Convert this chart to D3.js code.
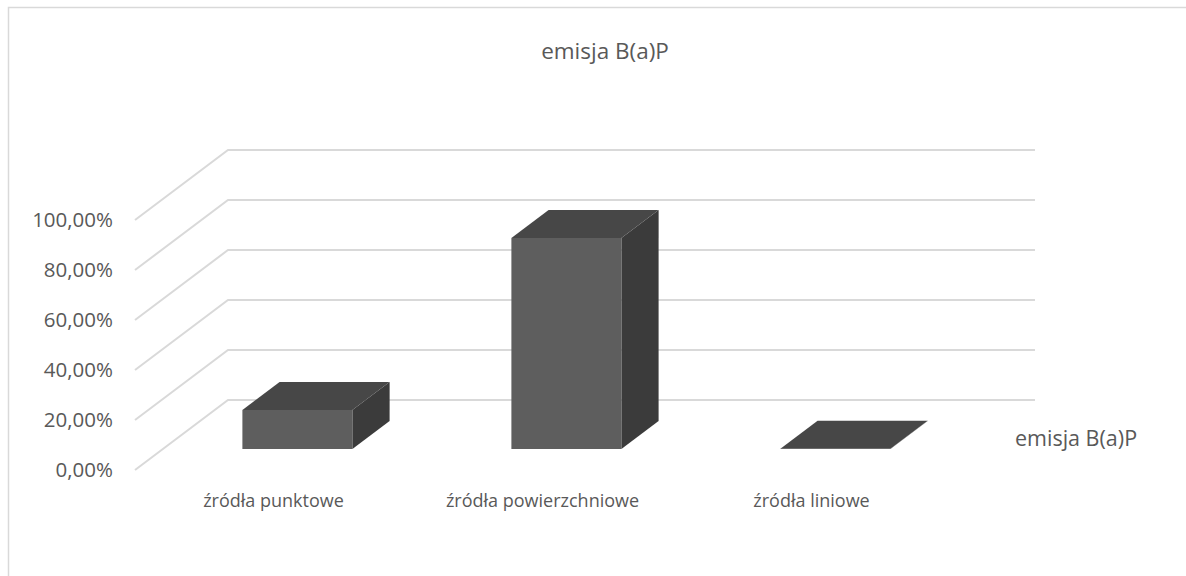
<!DOCTYPE html>
<html lang="pl">
<head>
<meta charset="utf-8">
<script src="https://cdn.jsdelivr.net/npm/d3@7"></script>
<style>
  html, body { margin: 0; padding: 0; background: #fff; }
  svg { display: block; }
</style>
</head>
<body>
<svg id="chart" width="1186" height="576"></svg>
<script>
// Share of B(a)P emission by source type
const categories = ["źródła punktowe", "źródła powierzchniowe", "źródła liniowe"];
const emissionShare = [0.156, 0.844, 0.001];
const tickValues = [0, 0.2, 0.4, 0.6, 0.8, 1.0];
const tickLabels = ["0,00%", "20,00%", "40,00%", "60,00%", "80,00%", "100,00%"];
const seriesName = "emisja B(a)P";
const chartTitle = "emisja B(a)P";

const svg = d3.select("#chart");
const font = "'Open Sans', 'DejaVu Sans', sans-serif";

// 3D box geometry: floor depth vector and plot extents
const depthDX = 93, depthDY = -70;
const frontLeft = 135, frontRight = 942;
const y = d3.scaleLinear().domain([0, 1]).range([470, 220]);
const x = d3.scaleBand().domain(categories).range([frontLeft, frontRight]);
const barWidth = 110;
const depthStart = 0.3, depthEnd = 0.7;

// chart frame
svg.append("path")
  .attr("d", "M8.5,576 L8.5,7.5 L1186,7.5")
  .attr("fill", "none").attr("stroke", "#d9d9d9").attr("stroke-width", 1.5);

// title
svg.append("text")
  .attr("x", 605).attr("y", 59)
  .attr("text-anchor", "middle")
  .attr("font-family", font).attr("font-size", 22.5)
  .attr("fill", "#595959")
  .text(chartTitle);

// gridlines: side wall diagonals and back wall horizontals
const grid = svg.append("g").attr("stroke", "#d9d9d9").attr("stroke-width", 2).attr("fill", "none");
grid.selectAll("path").data(tickValues).join("path")
  .attr("d", v => {
    const yf = y(v);
    return `M${frontLeft},${yf} L${frontLeft + depthDX},${yf + depthDY} L${frontRight + depthDX},${yf + depthDY}`;
  });

// value axis labels
svg.append("g").selectAll("text").data(tickValues).join("text")
  .attr("x", 113).attr("y", v => y(v))
  .attr("dy", "0.35em")
  .attr("text-anchor", "end")
  .attr("font-family", font).attr("font-size", 20.5)
  .attr("fill", "#595959")
  .text((v, i) => tickLabels[i]);

// category labels
svg.append("g").selectAll("text").data(categories).join("text")
  .attr("x", d => x(d) + x.bandwidth() / 2 + 4)
  .attr("y", 507)
  .attr("text-anchor", "middle")
  .attr("font-family", font).attr("font-size", 18)
  .attr("fill", "#595959")
  .text(d => d);

// 3D bars: front, side and top faces
const bars = svg.append("g");
categories.forEach((c, i) => {
  const v = emissionShare[i];
  const ox = depthStart * depthDX, oy = depthStart * depthDY;
  const dx = (depthEnd - depthStart) * depthDX, dy = (depthEnd - depthStart) * depthDY;
  const x0 = x(c) + (x.bandwidth() - barWidth) / 2 + ox;
  const x1 = x0 + barWidth;
  const yb = y(0) + oy;
  const yt = y(v) + oy;
  const g = bars.append("g");
  // side face
  g.append("path")
    .attr("d", `M${x1},${yt} L${x1 + dx},${yt + dy} L${x1 + dx},${yb + dy} L${x1},${yb} Z`)
    .attr("fill", "#3b3b3b");
  // front face
  g.append("rect")
    .attr("x", x0).attr("y", yt)
    .attr("width", barWidth).attr("height", Math.max(0, yb - yt))
    .attr("fill", "#5e5e5e");
  // top face
  g.append("path")
    .attr("d", `M${x0},${yt} L${x0 + dx},${yt + dy} L${x1 + dx},${yt + dy} L${x1},${yt} Z`)
    .attr("fill", "#474747");
});

// legend
svg.append("text")
  .attr("x", 1015).attr("y", 438)
  .attr("dy", "0.35em")
  .attr("font-family", font).attr("font-size", 21.5)
  .attr("fill", "#595959")
  .text(seriesName);
</script>
</body>
</html>
